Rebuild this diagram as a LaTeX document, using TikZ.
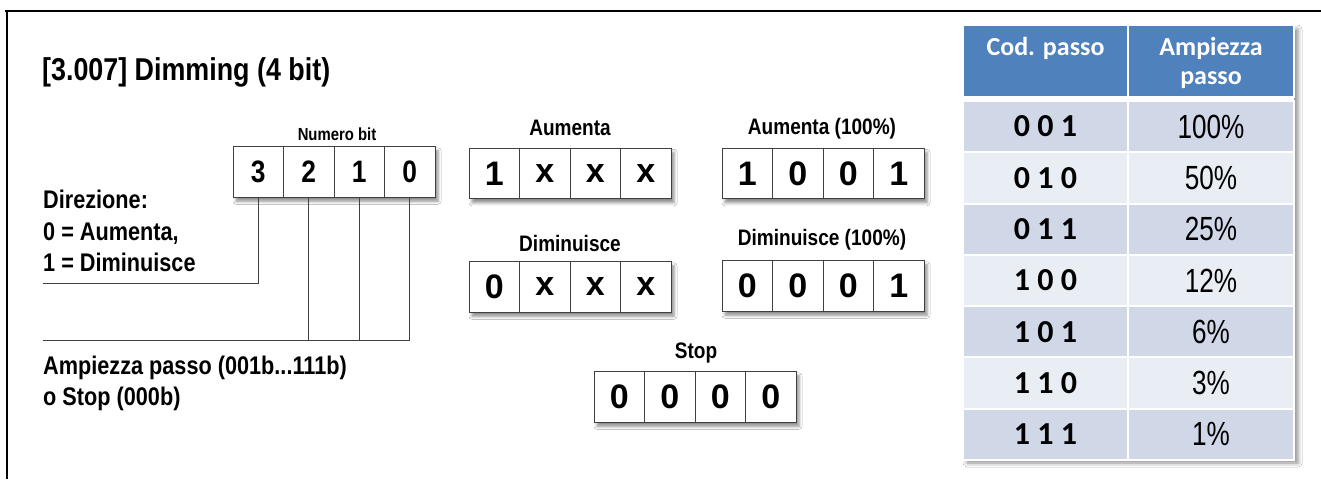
\documentclass[tikz,border=0pt]{standalone}
\usepackage{fontspec}
\setmainfont{Liberation Sans}
\newfontfamily\narrowfont[FakeStretch=0.85]{Liberation Sans}
\newfontfamily\pctfont[FakeStretch=0.78]{Liberation Sans}
\newfontfamily\calibfont{Carlito}
\usetikzlibrary{shadows.blur}
\definecolor{hdr}{HTML}{4F81BD}
\definecolor{rowa}{HTML}{D0D8E8}
\definecolor{rowb}{HTML}{E9EDF4}
\definecolor{lnc}{HTML}{404040}
\newcommand\fsz[1]{\fontsize{#1}{#1}\selectfont}
\newcommand\regbox[5]{%
  \path[blur shadow={shadow xshift=3pt,shadow yshift=-4pt,shadow blur radius=3pt,shadow opacity=45}, fill=white]
    (#2,#3-25.25) rectangle (#2+202,#3+25.25);
  \foreach \v [count=\i from 0] in {#4} {\node[cell, font=#5] (#1-\i) at (#2+25.25+\i*50.5,#3) {\v};}
}
\begin{document}
\begin{tikzpicture}[x=1pt,y=-1pt,
  cell/.style={draw=lnc, line width=0.9pt, fill=white, minimum width=50.5pt, minimum height=50.5pt, inner sep=0pt},
  conn/.style={draw=lnc, line width=0.9pt},
  lbl/.style={font=\narrowfont\bfseries\fsz{25.5}, anchor=base west, inner sep=0pt},
  reglbl/.style={font=\narrowfont\bfseries\fsz{22.4}, inner sep=0pt},
  tcell/.style={draw=white, line width=2pt, inner sep=0pt}
]
\useasboundingbox (0,0) rectangle (1321,479);
\fill[white] (0,0) rectangle (1321,479);
% frame
\draw[line width=2pt] (5,10.5) -- (1321,10.5);
\draw[line width=2pt] (7,10.5) -- (7,479);

% title
\node[font=\narrowfont\bfseries\fsz{31.6}, anchor=base west, inner sep=0pt] (title) at (42,80) {[3.007] Dimming (4 bit)};

% bit number register
\node[font=\narrowfont\bfseries\fsz{17.5}, inner sep=0pt] (nbit) at (337,134) {Numero bit};
\regbox{b}{233}{172}{3,2,1,0}{\narrowfont\bfseries\fsz{31}}

% left labels
\node[lbl] (dir1) at (43,208) {Direzione:};
\node[lbl] (dir2) at (43,240) {0 = Aumenta,};
\node[lbl] (dir3) at (43,271) {1 = Diminuisce};
\node[lbl] (amp1) at (43,374) {Ampiezza passo (001b...111b)};
\node[lbl] (amp2) at (43,405) {o Stop (000b)};

\coordinate (dirEnd) at (43,283);
\coordinate (ampEnd) at (43,340);
\draw[conn] (b-0.south) |- (dirEnd);
\draw[conn] (ampEnd) -| (b-3.south);
\draw[conn] (b-1.south) -- (b-1.south |- ampEnd);
\draw[conn] (b-2.south) -- (b-2.south |- ampEnd);

% example registers
\node[reglbl] (laum) at (570,128) {Aumenta};
\regbox{aum}{469}{173.5}{1,x,x,x}{\bfseries\fsz{34}}
\node[reglbl] (laum1) at (822,129) {Aumenta (100\%)};
\regbox{aumc}{722}{173.5}{1,0,0,1}{\bfseries\fsz{34}}
\node[reglbl] (ldim) at (570,243) {Diminuisce};
\regbox{dim}{469}{287}{0,x,x,x}{\bfseries\fsz{34}}
\node[reglbl] (ldim1) at (822,240) {Diminuisce (100\%)};
\regbox{dimc}{722}{286}{0,0,0,1}{\bfseries\fsz{34}}
\node[reglbl] (lstop) at (696,353) {Stop};
\regbox{stop}{594}{397}{0,0,0,0}{\bfseries\fsz{34}}

% table
\path[blur shadow={shadow xshift=4pt,shadow yshift=-4pt,shadow blur radius=4pt,shadow opacity=45}, fill=white]
  (963,25) rectangle (1294,459);
\node[tcell, fill=hdr, minimum width=165pt, minimum height=72pt] (h1) at (1045.5,61) {};
\node[tcell, fill=hdr, minimum width=166pt, minimum height=72pt] (h2) at (1211,61) {};
\node[font=\calibfont\bfseries\fsz{26}, text=white, inner sep=0pt] (h1t) at (1045.5,48) {Cod. passo};
\node[font=\calibfont\bfseries\fsz{26}, text=white, inner sep=0pt] (h2t) at (1211,48) {Ampiezza};
\node[font=\calibfont\bfseries\fsz{26}, text=white, inner sep=0pt] (h2u) at (1211,80) {passo};
\foreach \col/\cod/\pct [count=\i from 0] in {rowa/0 0 1/100\%, rowb/0 1 0/50\%, rowa/0 1 1/25\%, rowb/1 0 0/12\%, rowa/1 0 1/6\%, rowb/1 1 0/3\%, rowa/1 1 1/1\%} {
  \node[tcell, fill=\col, minimum width=165pt, minimum height=51.3pt, font=\calibfont\bfseries\fsz{32}] (c\i) at (1045.5,126.6+\i*51.3) {\cod};
  \node[tcell, fill=\col, minimum width=166pt, minimum height=51.3pt, font=\pctfont\fsz{33.5}] (p\i) at (1211,126.6+\i*51.3) {\pct};
}
\end{tikzpicture}
\end{document}
